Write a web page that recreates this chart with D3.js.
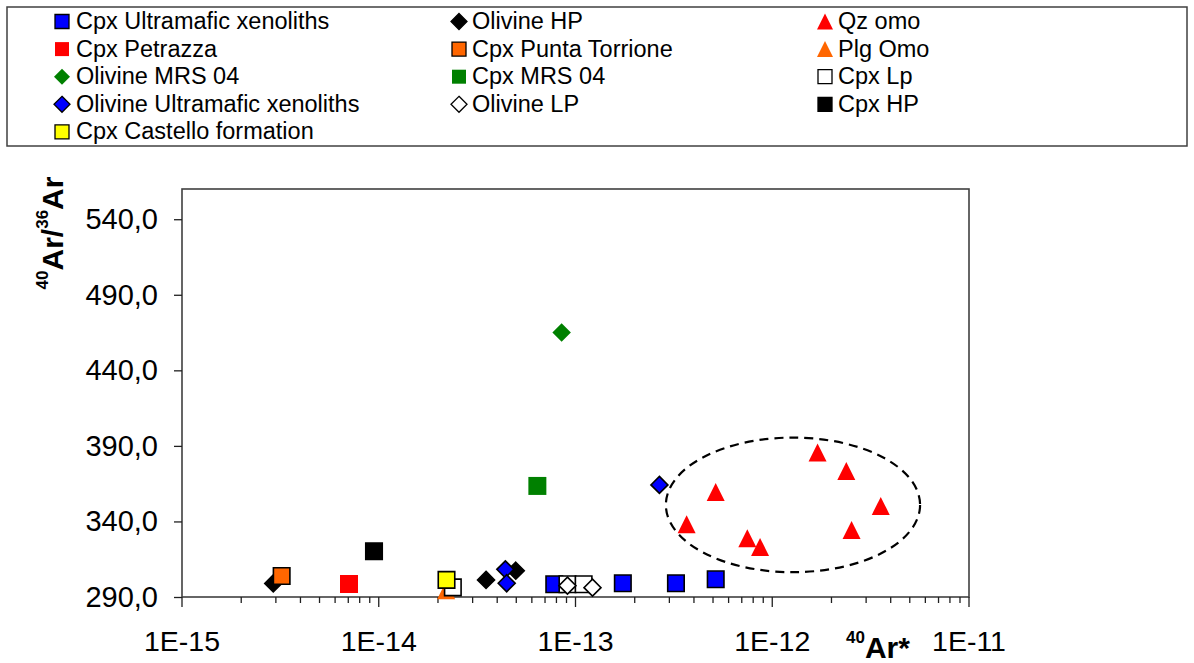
<!DOCTYPE html>
<html>
<head>
<meta charset="utf-8">
<script src="https://cdn.jsdelivr.net/npm/d3@7"></script>
<style>
  html, body { margin: 0; padding: 0; background: #fff; }
  svg { display: block; font-family: "Liberation Sans", Arial, Helvetica, sans-serif; }
</style>
</head>
<body>
<svg id="chart" width="1194" height="663"></svg>
<script>
// ---- Series (legend order, also drawing order) ----
const seriesNames = [
  "Cpx Ultramafic xenoliths", "Olivine HP", "Qz omo",
  "Cpx Petrazza", "Cpx Punta Torrione", "Plg Omo",
  "Olivine MRS 04", "Cpx MRS 04", "Cpx Lp",
  "Olivine Ultramafic xenoliths", "Olivine LP", "Cpx HP",
  "Cpx Castello formation"
];
const seriesShapes = [
  "square", "diamond", "triangle",
  "square", "square", "triangle",
  "diamond", "square", "square",
  "diamond", "diamond", "square",
  "square"
];
const seriesFills = [
  "#0000ff", "#000000", "#ff0000",
  "#ff0000", "#ff6600", "#ff6600",
  "#008000", "#008000", "#ffffff",
  "#0000ff", "#ffffff", "#000000",
  "#ffff00"
];
const seriesStrokes = [
  "#000000", "#000000", "none",
  "none", "#000000", "none",
  "none", "none", "#000000",
  "#000000", "#000000", "#000000",
  "#000000"
];

// ---- Values: 40Ar* (x) and 40Ar/36Ar (y) ----
const cpxUltramaficX = [7.8e-14, 1.74e-13, 3.24e-13, 5.16e-13];
const cpxUltramaficY = [298.4, 299.1, 299.1, 301.7];
const olivineHpX = [2.91e-15, 3.51e-14, 4.97e-14];
const olivineHpY = [299.0, 301.3, 307.4];
const qzOmoX = [5.16e-13, 3.67e-13, 7.47e-13, 8.67e-13, 1.70e-12, 2.38e-12, 3.56e-12, 2.53e-12];
const qzOmoY = [359.5, 338.1, 328.9, 323.1, 385.6, 373.4, 350.3, 334.4];
const cpxPetrazzaX = [7.06e-15];
const cpxPetrazzaY = [298.6];
const cpxPuntaTorrioneX = [3.21e-15];
const cpxPuntaTorrioneY = [303.9];
const plgOmoX = [2.2e-14];
const plgOmoY = [294.4];
const olivineMrsX = [8.5e-14];
const olivineMrsY = [465.0];
const cpxMrsX = [6.4e-14];
const cpxMrsY = [363.5];
const cpxLpX = [2.38e-14, 9.1e-14, 1.1e-13];
const cpxLpY = [296.4, 298.4, 298.4];
const olivineUltramaficX = [4.4e-14, 4.47e-14, 2.67e-13];
const olivineUltramaficY = [308.3, 299.1, 364.2];
const olivineLpX = [9.1e-14, 1.22e-13];
const olivineLpY = [297.5, 296.2];
const cpxHpX = [9.46e-15];
const cpxHpY = [320.3];
const cpxCastelloX = [2.21e-14];
const cpxCastelloY = [301.3];

const seriesX = [cpxUltramaficX, olivineHpX, qzOmoX, cpxPetrazzaX, cpxPuntaTorrioneX, plgOmoX,
  olivineMrsX, cpxMrsX, cpxLpX, olivineUltramaficX, olivineLpX, cpxHpX, cpxCastelloX];
const seriesY = [cpxUltramaficY, olivineHpY, qzOmoY, cpxPetrazzaY, cpxPuntaTorrioneY, plgOmoY,
  olivineMrsY, cpxMrsY, cpxLpY, olivineUltramaficY, olivineLpY, cpxHpY, cpxCastelloY];

// ---- Axes ----
const xDomain = [1e-15, 1e-11];
const yDomain = [290, 560];
const yTickValues = [290, 340, 390, 440, 490, 540];
const xTickLabels = ["1E-15", "1E-14", "1E-13", "1E-12", "1E-11"];

// Dashed ellipse grouping the Qz omo cluster (data-space bounds)
const clusterXRange = [2.88e-13, 5.64e-12];
const clusterYRange = [306.4, 395.5];

// ---- Layout ----
const svg = d3.select("#chart");
const plot = { left: 182, right: 969, top: 189, bottom: 597 };

const x = d3.scaleLog().domain(xDomain).range([plot.left, plot.right]);
const y = d3.scaleLinear().domain(yDomain).range([plot.bottom, plot.top]);

function markerPath(shape, size) {
  const h = size / 2;
  if (shape === "square") return `M${-h},${-h}h${size}v${size}h${-size}Z`;
  if (shape === "diamond") return `M0,${-h}L${h},0L0,${h}L${-h},0Z`;
  return `M0,${-h}L${h},${h}L${-h},${h}Z`;
}

svg.append("rect").attr("width", 1194).attr("height", 663).attr("fill", "#fff");

// ---- Legend ----
const legend = svg.append("g");
legend.append("rect")
  .attr("x", 7).attr("y", 7).attr("width", 1180).attr("height", 139)
  .attr("fill", "#fff").attr("stroke", "#404040").attr("stroke-width", 1.5);

const legendMarkerX = [62, 459, 825];
const legendTextX = [76, 472, 838];
const legendBaseline0 = 29, legendRowStep = 27.6;

seriesNames.forEach((name, i) => {
  const col = i % 3, row = Math.floor(i / 3);
  const by = legendBaseline0 + row * legendRowStep;
  const shape = seriesShapes[i];
  const sz = shape === "square" ? 14 : 16;
  legend.append("path")
    .attr("d", markerPath(shape, sz))
    .attr("transform", `translate(${legendMarkerX[col]},${by - 7.5})`)
    .attr("fill", seriesFills[i])
    .attr("stroke", seriesStrokes[i])
    .attr("stroke-width", 1.3);
  legend.append("text")
    .attr("x", legendTextX[col]).attr("y", by)
    .attr("font-size", 23.5)
    .attr("fill", "#000")
    .text(name);
});

// ---- Plot frame ----
svg.append("rect")
  .attr("x", plot.left).attr("y", plot.top)
  .attr("width", plot.right - plot.left).attr("height", plot.bottom - plot.top)
  .attr("fill", "none").attr("stroke", "#404040").attr("stroke-width", 1.6);

// ---- X axis (log, minor ticks 2..9) ----
const xTicks = x.ticks();
const isDecade = v => Math.abs(Math.log10(v) - Math.round(Math.log10(v))) < 1e-9;
const xAxisG = svg.append("g").attr("transform", `translate(0,${plot.bottom})`);
xAxisG.selectAll("line.tick")
  .data(xTicks)
  .join("line")
  .attr("class", "tick")
  .attr("x1", d => x(d)).attr("x2", d => x(d))
  .attr("y1", 0).attr("y2", d => isDecade(d) ? 10 : 6)
  .attr("stroke", "#202020").attr("stroke-width", 1.3);

const decades = xTicks.filter(isDecade);
xAxisG.selectAll("text.lbl")
  .data(decades)
  .join("text")
  .attr("class", "lbl")
  .attr("x", d => x(d)).attr("y", 54)
  .attr("text-anchor", "middle")
  .attr("font-size", 28.5)
  .attr("fill", "#000")
  .text((d, i) => xTickLabels[i]);

// ---- Y axis ----
const yAxis = d3.axisLeft(y)
  .tickValues(yTickValues)
  .tickSize(8)
  .tickPadding(16)
  .tickFormat(d => d3.format(".1f")(d).replace(".", ","));
const yAxisG = svg.append("g").attr("transform", `translate(${plot.left},0)`).call(yAxis);
yAxisG.select(".domain").remove();
yAxisG.selectAll(".tick line").attr("stroke", "#202020").attr("stroke-width", 1.3);
yAxisG.selectAll(".tick text")
  .attr("font-size", 29)
  .attr("font-family", "\"Liberation Sans\", Arial, sans-serif")
  .attr("fill", "#000");

// ---- Axis titles ----
const xTitle = svg.append("text")
  .attr("x", 846).attr("y", 658)
  .attr("font-weight", "bold").attr("fill", "#000");
xTitle.append("tspan").attr("font-size", 17).attr("dy", -15).text("40");
xTitle.append("tspan").attr("font-size", 30).attr("dy", 15).text("Ar*");

const yTitle = svg.append("text")
  .attr("transform", "translate(63,233) rotate(-90)")
  .attr("text-anchor", "middle")
  .attr("font-weight", "bold").attr("fill", "#000");
yTitle.append("tspan").attr("font-size", 17).attr("dy", -15).text("40");
yTitle.append("tspan").attr("font-size", 30).attr("dy", 15).text("Ar/");
yTitle.append("tspan").attr("font-size", 17).attr("dy", -15).text("36");
yTitle.append("tspan").attr("font-size", 30).attr("dy", 15).text("Ar");

// ---- Cluster ellipse ----
const ex0 = x(clusterXRange[0]), ex1 = x(clusterXRange[1]);
const ey0 = y(clusterYRange[1]), ey1 = y(clusterYRange[0]);
svg.append("ellipse")
  .attr("cx", (ex0 + ex1) / 2).attr("cy", (ey0 + ey1) / 2)
  .attr("rx", (ex1 - ex0) / 2).attr("ry", (ey1 - ey0) / 2)
  .attr("fill", "none").attr("stroke", "#000")
  .attr("stroke-width", 2.2).attr("stroke-dasharray", "9,6");

// ---- Markers ----
const marks = svg.append("g");
seriesNames.forEach((name, i) => {
  const pts = seriesX[i].map((xv, j) => ({ x: xv, y: seriesY[i][j] }));
  const shape = seriesShapes[i];
  const stroked = seriesStrokes[i] !== "none";
  const size = shape === "triangle" ? 18 : (shape === "diamond" ? (stroked ? 17 : 18.5) : (stroked ? 16.5 : 18));
  marks.append("g")
    .selectAll("path")
    .data(pts)
    .join("path")
    .attr("d", markerPath(shape, size))
    .attr("transform", d => `translate(${x(d.x)},${y(d.y)})`)
    .attr("fill", seriesFills[i])
    .attr("stroke", seriesStrokes[i])
    .attr("stroke-width", 1.6);
});
</script>
</body>
</html>
